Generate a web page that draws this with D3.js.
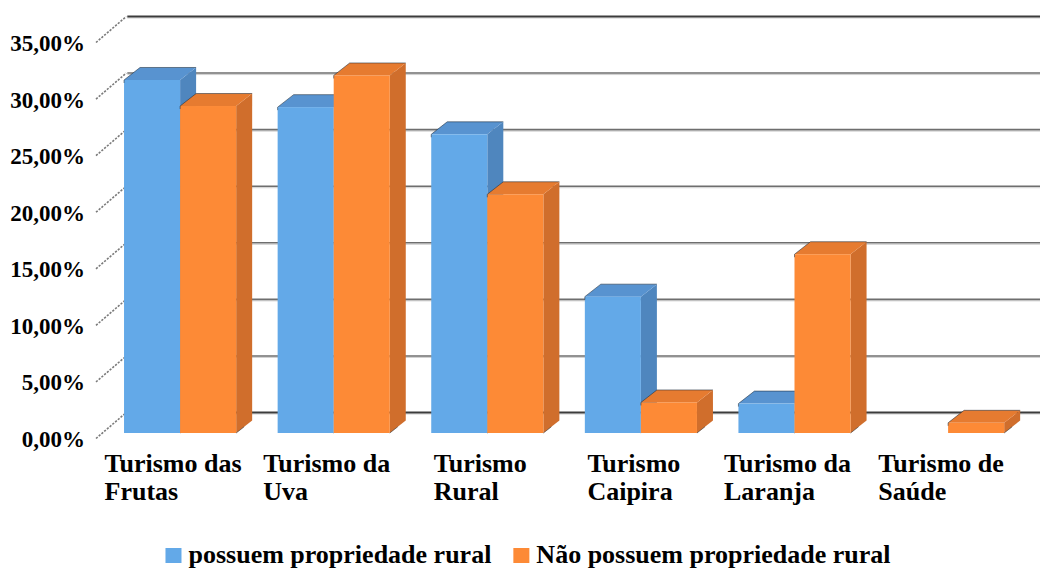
<!DOCTYPE html>
<html>
<head>
<meta charset="utf-8">
<script src="https://cdn.jsdelivr.net/npm/d3@7"></script>
<style>
  html, body { margin: 0; padding: 0; background: #fff; }
  svg { display: block; }
</style>
</head>
<body>
<svg id="chart" width="1040" height="570"></svg>
<script>
// Categories and series values (shares of respondents)
const categories = ["Turismo das Frutas", "Turismo da Uva", "Turismo Rural", "Turismo Caipira", "Turismo da Laranja", "Turismo de Saúde"];
const seriesNames = ["possuem propriedade rural", "Não possuem propriedade rural"];
const possuem = [0.312, 0.288, 0.264, 0.1205, 0.026, 0];
const naoPossuem = [0.289, 0.316, 0.211, 0.027, 0.158, 0.009];
const yTicks = [0, 0.05, 0.10, 0.15, 0.20, 0.25, 0.30, 0.35];

// Face colours per series: front, top, side
const palette = [
  { front: "#63A9E8", top: "#5893D0", side: "#4F86BE" },
  { front: "#FD8A36", top: "#E67B30", side: "#D06E2C" }
];

const FONT = '"Liberation Serif"';
const svg = d3.select("#chart");
const ptBR = d3.formatLocale({ decimal: ",", thousands: ".", grouping: [3], currency: ["R$", ""] });
const fmtPct = ptBR.format(".2%");

function styleText(sel, size) {
  return sel.style("font-family", FONT).style("font-weight", "bold").style("font-size", size + "px").style("fill", "#000");
}

// Front plane scales
const x = d3.scaleBand().domain(categories).range([103.3, 1024.9]).paddingInner(0.27).paddingOuter(0.135);
const xs = d3.scaleBand().domain(seriesNames).range([0, x.bandwidth()]);
const y = d3.scaleLinear().domain([0, 0.35]).range([433, 37]);

// Depth offsets: back wall and bar depth
const wall = { dx: 29, dy: -20.5 };
const depth = { dx: 16, dy: -12.5 };
const wallLeft = x.range()[0] + wall.dx - 5;

// Back-wall gridlines
const grid = svg.append("g");
yTicks.forEach(t => {
  const yy = y(t) + wall.dy;
  const strong = (t === 0 || t === 0.35);
  grid.append("line").attr("x1", wallLeft).attr("x2", 1040).attr("y1", yy + 1.5).attr("y2", yy + 1.5)
    .attr("stroke", "#cfcfcf").attr("stroke-width", 1);
  grid.append("line").attr("x1", wallLeft).attr("x2", 1040).attr("y1", yy).attr("y2", yy)
    .attr("stroke", strong ? "#3c3c3c" : "#6e6e6e").attr("stroke-width", strong ? 2.2 : 1.6);
});

// Left wall tick strokes seen edge-on
const ticksG = svg.append("g");
yTicks.forEach(t => {
  ticksG.append("line")
    .attr("x1", 96).attr("y1", y(t) + 5.5)
    .attr("x2", wallLeft - 1).attr("y2", y(t) + wall.dy)
    .attr("stroke", "#7a7a7a").attr("stroke-width", 1.6)
    .attr("stroke-dasharray", "2.2,1.4");
});

// Y tick labels
styleText(svg.append("g").selectAll("text").data(yTicks).join("text"), 23)
  .attr("x", 85).attr("y", d => y(d) + 6).attr("dy", "0.35em")
  .attr("text-anchor", "end")
  .text(d => fmtPct(d));

// 3D bars
const bars = svg.append("g");
const seriesValues = [possuem, naoPossuem];
categories.forEach((c, i) => {
  seriesNames.forEach((s, k) => {
    const v = seriesValues[k][i];
    if (!(v > 0)) return;
    const col = palette[k];
    const x0 = x(c) + xs(s), x1 = x0 + xs.bandwidth();
    const y0 = y(0), yt = y(v);
    const dx = depth.dx, dy = depth.dy;
    const g = bars.append("g");
    // side face
    g.append("path")
      .attr("d", `M${x1},${y0}L${x1 + dx},${y0 + dy}L${x1 + dx},${yt + dy}L${x1},${yt}Z`)
      .attr("fill", col.side);
    // top face
    g.append("path")
      .attr("d", `M${x0},${yt}L${x0 + dx},${yt + dy}L${x1 + dx},${yt + dy}L${x1},${yt}Z`)
      .attr("fill", col.top);
    // front face
    g.append("rect")
      .attr("x", x0).attr("y", yt).attr("width", x1 - x0).attr("height", y0 - yt)
      .attr("fill", col.front);
    // soft dark edge along the top-left outline
    g.append("path")
      .attr("d", `M${x0},${Math.min(y0, yt + 3)}L${x0},${yt}L${x0 + dx},${yt + dy}L${x1 + dx},${yt + dy}`)
      .attr("fill", "none").attr("stroke", "#1d2b3a").attr("stroke-opacity", 0.55).attr("stroke-width", 1);
    // small dark notch at the base of the side face
    g.append("path")
      .attr("d", `M${x1},${y0}L${x1 + dx * 0.5},${y0 + dy * 0.5}`)
      .attr("fill", "none").attr("stroke", "#333").attr("stroke-opacity", 0.6).attr("stroke-width", 1);
  });
});

// Category labels (two lines, left-aligned block, first line centred on the group)
const catG = svg.append("g");
categories.forEach(c => {
  const cut = c.lastIndexOf(" ");
  const lines = [c.slice(0, cut), c.slice(cut + 1)];
  const t = styleText(catG.append("text"), 26);
  const first = t.append("tspan").attr("y", 472).text(lines[0]);
  const w = first.node().getComputedTextLength();
  const left = x(c) + x.bandwidth() / 2 - 7 - w / 2;
  first.attr("x", left);
  t.append("tspan").attr("x", left).attr("y", 500).text(lines[1]);
});

// Legend
const leg = svg.append("g");
const items = seriesNames.map((s, k) => {
  const gi = leg.append("g");
  gi.append("rect").attr("x", 0).attr("y", -15).attr("width", 16).attr("height", 15).attr("fill", palette[k].front);
  const tx = styleText(gi.append("text"), 26).attr("x", 23).attr("y", 0).text(s);
  return { g: gi, w: 23 + tx.node().getComputedTextLength() };
});
const gap = 22;
const total = d3.sum(items, d => d.w) + gap * (items.length - 1);
let cx = 528 - total / 2;
items.forEach(it => {
  it.g.attr("transform", `translate(${cx},563)`);
  cx += it.w + gap;
});
</script>
</body>
</html>
